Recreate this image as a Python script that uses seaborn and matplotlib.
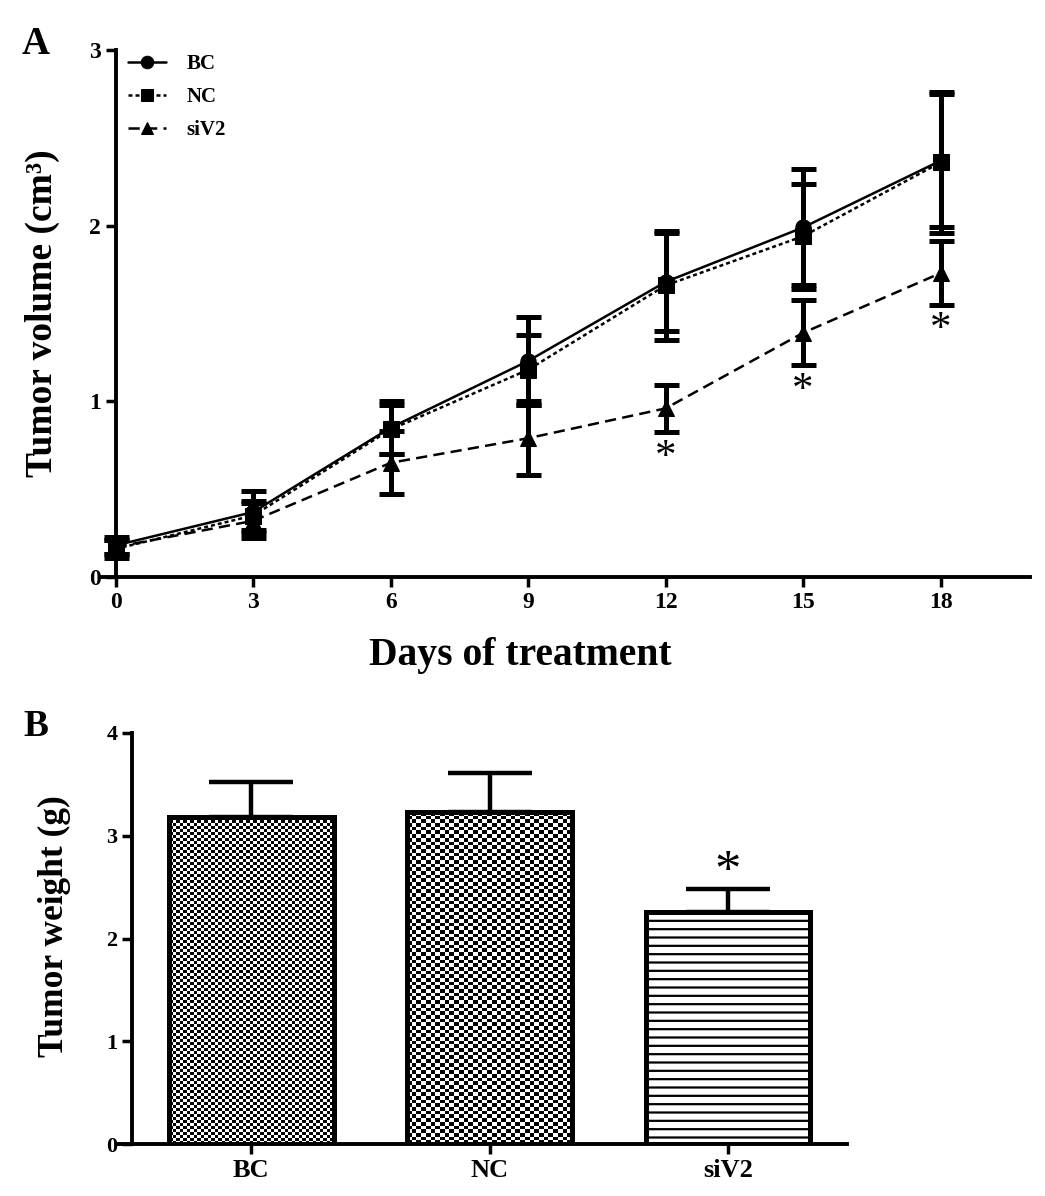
import numpy as np
import pandas as pd
import matplotlib
matplotlib.use("Agg")
import matplotlib.pyplot as plt
import seaborn as sns

# ---------------- data ----------------
days = [0, 3, 6, 9, 12, 15, 18]
bc_vol = [0.18, 0.37, 0.85, 1.23, 1.68, 1.99, 2.37]
bc_err = [0.05, 0.12, 0.15, 0.25, 0.28, 0.33, 0.38]
nc_vol = [0.16, 0.35, 0.84, 1.18, 1.66, 1.94, 2.36]
nc_err = [0.05, 0.08, 0.14, 0.20, 0.31, 0.30, 0.40]
si_vol = [0.17, 0.32, 0.65, 0.79, 0.96, 1.39, 1.73]
si_err = [0.04, 0.10, 0.18, 0.21, 0.135, 0.185, 0.18]
sig_days = [12, 15, 18]

groups = ["BC", "NC", "siV2"]
weights = [3.18, 3.23, 2.26]
weight_err = [0.34, 0.38, 0.22]
sig_groups = ["siV2"]

# ---------------- style ----------------
sns.set_theme(style="ticks")
SERIF = ["Liberation Serif", "DejaVu Serif"]
plt.rcParams["font.family"] = SERIF
plt.rcParams["font.weight"] = "bold"
plt.rcParams["axes.labelweight"] = "bold"
plt.rcParams["text.color"] = "black"
plt.rcParams["axes.labelcolor"] = "black"
plt.rcParams["xtick.color"] = "black"
plt.rcParams["ytick.color"] = "black"
plt.rcParams["hatch.linewidth"] = 1.6
plt.rcParams["hatch.color"] = "black"

W, H = 1045, 1196
fig = plt.figure(figsize=(W / 100, H / 100), dpi=100)


def fpos(x0, y0, x1, y1):
    return [x0 / W, 1 - y1 / H, (x1 - x0) / W, (y1 - y0) / H]


# ---------------- panel A ----------------
ax1 = fig.add_axes(fpos(102, 50, 1030, 577))
series = [
    ("BC", bc_vol, bc_err, "o", "-"),
    ("NC", nc_vol, nc_err, "s", (0, (1.6, 1.2))),
    ("siV2", si_vol, si_err, "^", (0, (4.5, 2.5))),
]
rows = []
for name, v, e, m, ls in series:
    for d, val in zip(days, v):
        rows.append({"day": d, "vol": val, "grp": name})
df = pd.DataFrame(rows)

for name, v, e, m, ls in series:
    sub = df[df.grp == name]
    sns.lineplot(data=sub, x="day", y="vol", ax=ax1, color="black",
                 linewidth=1.8, linestyle=ls, marker=m, markersize=11,
                 markeredgecolor="black", markerfacecolor="black",
                 label=name, clip_on=False, zorder=3)
    ax1.errorbar(days, v, yerr=e, fmt="none", ecolor="black",
                 elinewidth=3.6, capsize=9, capthick=3.6, clip_on=False,
                 zorder=4)

for d in sig_days:
    i = days.index(d)
    ax1.text(d, si_vol[i] - si_err[i] - 0.035, "*", ha="center", va="top",
             fontsize=31, fontweight="normal", color="black")

ax1.set_xlim(-0.3, 19.95)
ax1.set_ylim(0, 3)
ax1.set_xticks(days)
ax1.set_yticks([0, 1, 2, 3])
ax1.set_xlabel("")
ax1.set_ylabel("")
sns.despine(ax=ax1)
ax1.spines["left"].set_position(("data", 0))
ax1.spines["left"].set_bounds(0, 3)
for s in ("left", "bottom"):
    ax1.spines[s].set_linewidth(2.8)
    ax1.spines[s].set_color("black")
ax1.tick_params(axis="both", which="major", direction="out", length=7,
                width=2.5, labelsize=17, colors="black")
for lab in ax1.get_xticklabels() + ax1.get_yticklabels():
    lab.set_fontweight("bold")

leg = ax1.legend(loc="upper left", bbox_to_anchor=(128 / W, 1 - 54 / H),
                 bbox_transform=fig.transFigure, frameon=False,
                 borderpad=0, borderaxespad=0, handlelength=1.8,
                 handletextpad=1.0, labelspacing=0.62,
                 prop={"family": SERIF, "weight": "bold", "size": 15})
for h in leg.legend_handles:
    h.set_markersize(9)
    h.set_linewidth(1.8)

fig.text(42 / W, 1 - 313 / H, "Tumor volume (cm³)", rotation=90,
         ha="center", va="center", fontsize=27, fontweight="bold")
fig.text(520 / W, 1 - 655 / H, "Days of treatment", ha="center",
         va="center", fontsize=28.5, fontweight="bold")
fig.text(36 / W, 1 - 45 / H, "A", ha="center", va="center", fontsize=28,
         fontweight="bold")

# ---------------- panel B ----------------
ax2 = fig.add_axes(fpos(118, 733, 847, 1144))
bdf = pd.DataFrame({"grp": groups, "w": weights})
sns.barplot(data=bdf, x="grp", y="w", ax=ax2, width=0.69, color="white",
            edgecolor="black", linewidth=3.6, errorbar=None, saturation=1)

ax2.errorbar(range(len(groups)), weights,
             yerr=[np.zeros(len(groups)), weight_err], fmt="none",
             ecolor="black", elinewidth=3.2, capsize=30, capthick=3.2,
             zorder=1)

ax2.set_xlim(-0.56, 2.5)
ax2.set_ylim(0, 4)
fig.canvas.draw()

# textures inside the bars
cell_px = {"BC": (3.5, 3.0), "NC": (4.7, 3.7)}
for p, g in zip(ax2.patches, groups):
    p.set_zorder(3)
    if g in cell_px:
        x0, y0 = p.get_x(), p.get_y()
        w, h = p.get_width(), p.get_height()
        (px0, py0), (px1, py1) = ax2.transData.transform([(x0, y0), (x0 + w, y0 + h)])
        cx, cy = cell_px[g]
        nx = max(int(round((px1 - px0) / cx)), 1)
        ny = max(int(round((py1 - py0) / cy)), 1)
        arr = np.indices((ny, nx)).sum(axis=0) % 2
        im = ax2.imshow(arr, cmap="Greys", vmin=0, vmax=1, aspect="auto",
                        interpolation="nearest",
                        extent=(x0, x0 + w, y0, y0 + h), zorder=2)
        im.set_clip_path(p)
        p.set_facecolor("none")
    else:
        p.set_hatch("--")

for g in sig_groups:
    i = groups.index(g)
    ax2.text(i, weights[i] + weight_err[i] - 0.08, "*", ha="center",
             va="bottom", fontsize=38, fontweight="normal", color="black")

ax2.set_xlim(-0.56, 2.5)
ax2.set_ylim(0, 4)
ax2.set_yticks([0, 1, 2, 3, 4])
ax2.set_xlabel("")
ax2.set_ylabel("")
sns.despine(ax=ax2)
ax2.spines["left"].set_position(("data", -0.5))
ax2.spines["left"].set_bounds(0, 4)
for s in ("left", "bottom"):
    ax2.spines[s].set_linewidth(2.8)
    ax2.spines[s].set_color("black")
ax2.tick_params(axis="both", which="major", direction="out", length=7,
                width=2.5, labelsize=16, colors="black")
ax2.tick_params(axis="x", labelsize=19)
for lab in ax2.get_xticklabels() + ax2.get_yticklabels():
    lab.set_fontweight("bold")

fig.text(54 / W, 1 - 926 / H, "Tumor weight (g)", rotation=90,
         ha="center", va="center", fontsize=25.5, fontweight="bold")
fig.text(36 / W, 1 - 726 / H, "B", ha="center", va="center", fontsize=27,
         fontweight="bold")

fig.savefig("out.png", dpi=100)
